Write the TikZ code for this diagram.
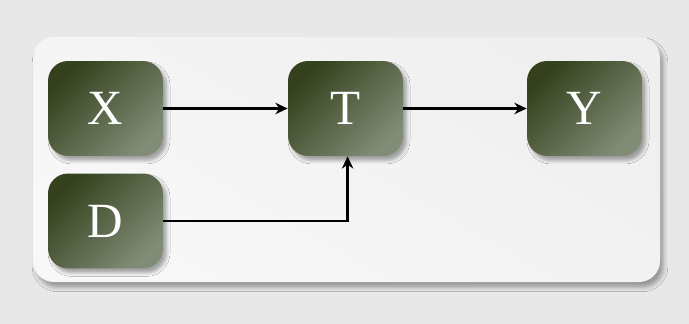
\documentclass[tikz,border=0pt]{standalone}
\usepackage{fontspec}
\setmainfont{Liberation Serif}
\usepackage{tikz}
\usetikzlibrary{arrows.meta}
\usetikzlibrary{shadows.blur}
\definecolor{bgGray}{HTML}{E8E8E8}
\definecolor{panelA}{HTML}{EFEFEF}
\definecolor{panelB}{HTML}{F8F8F8}
\definecolor{oliveDark}{HTML}{34411C}
\definecolor{oliveLight}{HTML}{808C76}

\begin{document}
\begin{tikzpicture}[x=0.02cm,y=-0.02cm,
    var/.style={rounded corners=0.4cm, minimum width=2.3cm, minimum height=1.9cm,
      top color=oliveDark, bottom color=oliveLight, shading angle=45,
      text=white, font=\fontsize{28}{32}\selectfont,
      blur shadow={shadow xshift=2pt, shadow yshift=-2.5pt, shadow opacity=35, shadow blur radius=2pt}},
    link/.style={line width=1.4pt, -{Stealth[length=7pt,width=6.5pt]}}]
    \fill[bgGray] (0,0) rectangle (689,324);
    \useasboundingbox (0,0) rectangle (689,324);
    % panel
    \path[rounded corners=0.42cm, left color=panelA, right color=panelB, shading angle=-30,
      blur shadow={shadow xshift=2pt, shadow yshift=-3pt, shadow opacity=35, shadow blur radius=2.5pt}]
      (33,37) rectangle (660,282);
    % variables
    \node[var] (X) at (105.5,108.5) {X};
    \node[var] (T) at (345.5,108.5) {T};
    \node[var] (Y) at (584.5,108.5) {Y};
    \node[var] (D) at (105.5,221) {D};
    \draw[link] (X) -- (T);
    \draw[link] (T) -- (Y);
    \draw[link] (D.east) -| ([xshift=1.2pt]T.south);
  \end{tikzpicture}
\end{document}
